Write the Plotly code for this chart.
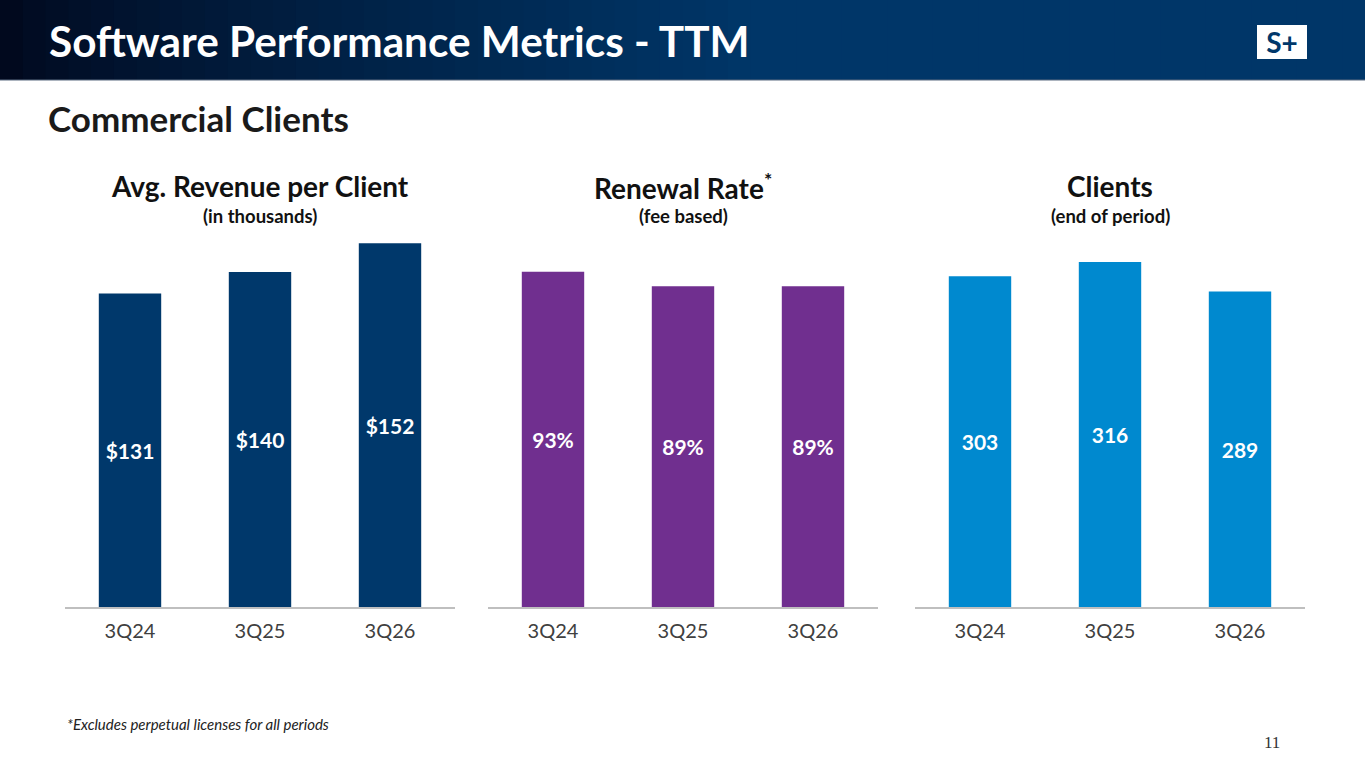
import plotly.graph_objects as go

W, H = 1365, 768

# ---- data ----
periods = ["3Q24", "3Q25", "3Q26"]
avg_revenue = [131, 140, 152]          # $ thousands
renewal_rate = [93, 89, 89]            # %
clients = [303, 316, 289]

revenue_labels = [f"${v}" for v in avg_revenue]
renewal_labels = [f"{v}%" for v in renewal_rate]
client_labels = [f"{v}" for v in clients]

FONT = "Lato"

def px(x):
    return x / W

def py(y):
    return 1 - y / H

fig = go.Figure()

panels = [
    dict(vals=avg_revenue, text=revenue_labels, color="#00386b", x0=65, x1=455, rng=161.3,
         title="Avg. Revenue per Client", sub="(in thousands)"),
    dict(vals=renewal_rate, text=renewal_labels, color="#702f8f", x0=488, x1=878, rng=107.1,
         title="Renewal Rate<sup>*</sup>", sub="(fee based)"),
    dict(vals=clients, text=client_labels, color="#0089cf", x0=915, x1=1305, rng=353.5,
         title="Clients", sub="(end of period)"),
]

y_bottom, y_top = 607, 221
annotations = []
for i, p in enumerate(panels, start=1):
    xa = "x" if i == 1 else f"x{i}"
    ya = "y" if i == 1 else f"y{i}"
    fig.add_trace(go.Bar(
        x=periods, y=p["vals"], text=p["text"], xaxis=xa, yaxis=ya,
        marker=dict(color=p["color"], line=dict(width=0)), width=0.48,
        textposition="inside", insidetextanchor="middle",
        textfont=dict(family=FONT, size=21, color="white", weight="bold"),
        hoverinfo="skip", showlegend=False,
    ))
    xkey = "xaxis" if i == 1 else f"xaxis{i}"
    ykey = "yaxis" if i == 1 else f"yaxis{i}"
    fig.update_layout(**{
        xkey: dict(domain=[px(p["x0"]), px(p["x1"])], anchor=ya, showgrid=False,
                   showline=True, linecolor="#bfbfbf", linewidth=1.5, ticks="",
                   ticklabelstandoff=5, zeroline=False, fixedrange=True,
                   tickfont=dict(family=FONT, size=20, color="#404040")),
        ykey: dict(domain=[py(y_bottom), py(y_top)], anchor=xa, range=[0, p["rng"]],
                   visible=False, showgrid=False, zeroline=False, fixedrange=True),
    })
    cx = px((p["x0"] + p["x1"]) / 2)
    annotations.append(dict(x=cx, y=py(186), xref="paper", yref="paper", text=p["title"],
                            showarrow=False, xanchor="center", yanchor="middle",
                            font=dict(family=FONT, size=28, color="#111111", weight="bold")))
    annotations.append(dict(x=cx, y=py(216), xref="paper", yref="paper", text=p["sub"],
                            showarrow=False, xanchor="center", yanchor="middle",
                            font=dict(family=FONT, size=18.5, color="#111111", weight="bold")))

# header gradient
shapes = []
n = 60
def lerp(a, b, t):
    return tuple(int(round(a[k] + (b[k] - a[k]) * t)) for k in range(3))
c0, c1 = (1, 9, 30), (0, 54, 104)
for k in range(n):
    t = k / (n - 1)
    tt = min(1.0, t / 0.55)
    c = lerp(c0, c1, tt ** 0.8)
    shapes.append(dict(type="rect", xref="paper", yref="paper",
                       x0=k / n, x1=(k + 1) / n + 0.002, y0=py(80), y1=1,
                       fillcolor="rgb(%d,%d,%d)" % c, line=dict(width=0), layer="below"))
shapes.append(dict(type="line", xref="paper", yref="paper", x0=0, x1=1, y0=py(80), y1=py(80),
                   line=dict(color="#5a6a80", width=1)))

annotations += [
    dict(x=px(1282), y=py(42.5), xref="paper", yref="paper", text="<b>S+</b>", showarrow=False,
         xanchor="center", yanchor="middle", bgcolor="white", borderpad=2,
         bordercolor="white", borderwidth=1,
         width=44, height=28, align="center", valign="middle",
         font=dict(family=FONT, size=28, color="#00386b")),
    dict(x=px(47), y=py(40), xref="paper", yref="paper", text="Software Performance Metrics - TTM",
         showarrow=False, xanchor="left", yanchor="middle",
         font=dict(family=FONT, size=42.3, color="white", weight="bold")),
    dict(x=px(46), y=py(118), xref="paper", yref="paper", text="Commercial Clients",
         showarrow=False, xanchor="left", yanchor="middle",
         font=dict(family=FONT, size=35, color="#1a1a1a", weight="bold")),
    dict(x=px(65), y=py(724), xref="paper", yref="paper",
         text="<i>*Excludes perpetual licenses for all periods</i>",
         showarrow=False, xanchor="left", yanchor="middle",
         font=dict(family=FONT, size=15, color="#222222")),
    dict(x=px(1272), y=py(742), xref="paper", yref="paper", text="11",
         showarrow=False, xanchor="center", yanchor="middle",
         font=dict(family="Liberation Serif", size=17, color="#333333")),
]

fig.update_layout(
    width=W, height=H, margin=dict(l=0, r=0, t=0, b=0),
    paper_bgcolor="white", plot_bgcolor="rgba(0,0,0,0)",
    shapes=shapes, annotations=annotations, bargap=0.52,
    uniformtext=dict(mode="show", minsize=10),
)

fig.write_html("out.html", config={"displayModeBar": False})
